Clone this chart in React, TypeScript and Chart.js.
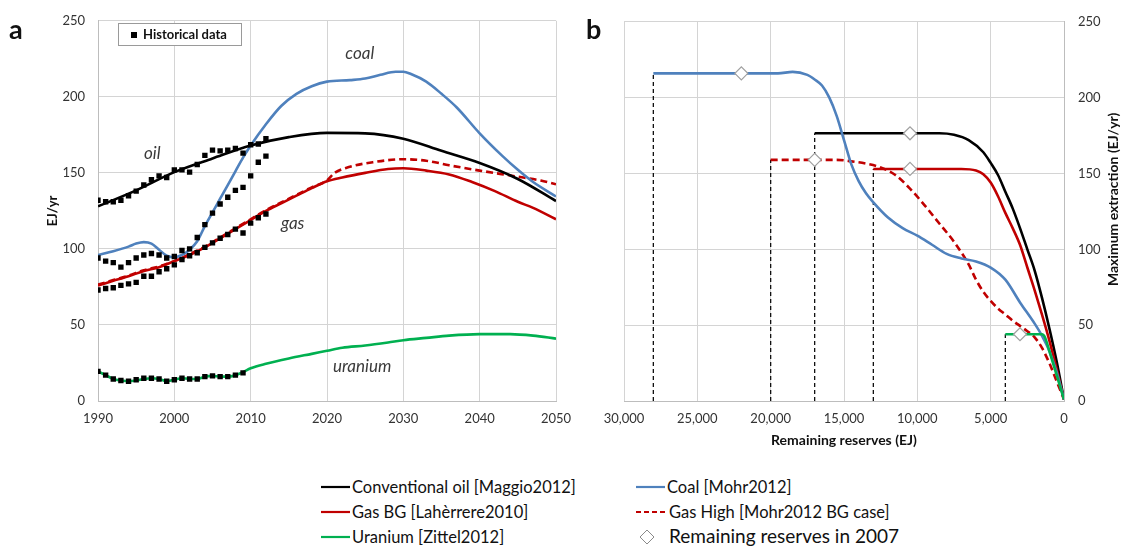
import React, { useEffect, useRef } from "react";
import { Chart, registerables } from "chart.js";

Chart.register(...registerables);

const FONT = "Lato, 'Open Sans', sans-serif";

// ---------- Panel a : production 1990-2050 (EJ/yr) ----------
const oilYears = [1990, 1995, 2000, 2005, 2010, 2015, 2020, 2025, 2030, 2035, 2040, 2045, 2050];
const oilValues = [128, 138.5, 150.5, 159.5, 168, 173.5, 176.3, 176, 172.5, 164.5, 156.5, 146, 131.5];

const coalYears = [1990, 1992, 1994, 1995, 1996, 1997, 1998, 1999, 2000, 2001, 2002, 2003, 2004, 2005, 2006, 2007, 2008, 2009, 2010, 2012, 2014, 2016, 2018, 2020, 2023, 2025, 2027, 2029, 2030, 2031, 2033, 2035, 2037, 2040, 2043, 2045, 2047, 2050];
const coalValues = [96, 98.5, 101.5, 103.5, 104.5, 103.5, 99.5, 95.5, 94.5, 96, 99.5, 105, 115, 124, 133, 142, 151, 160, 168, 182, 194, 202, 207, 210, 211, 212, 214.5, 216.5, 216.5, 215, 210, 202, 193, 176, 161, 152, 144, 134.5];

const gasBGYears = [1990, 1992, 1994, 1996, 1998, 2000, 2002, 2004, 2006, 2008, 2010, 2012, 2014, 2016, 2018, 2020, 2022, 2025, 2028, 2030, 2033, 2036, 2039, 2042, 2045, 2047, 2050];
const gasBGValues = [76, 79, 82, 85.5, 88, 92, 96, 101, 107, 113, 119, 125, 130, 135, 140, 144.5, 147, 150, 152.5, 153, 151.5, 149, 144, 138, 131, 127, 119.5];

const gasHighYears = [1990, 1992, 1994, 1996, 1998, 2000, 2002, 2004, 2006, 2008, 2010, 2012, 2014, 2016, 2018, 2020, 2021, 2023, 2026, 2030, 2033, 2036, 2040, 2045, 2048, 2050];
const gasHighValues = [76.5, 79.5, 82.5, 86, 88.5, 92, 96.5, 101.5, 107.5, 113.5, 119.5, 125.5, 130.5, 135.5, 140.5, 145, 150, 154, 157, 159, 158, 155, 151.5, 147.5, 145, 142.5];

const uraniumYears = [1990, 1991, 1992, 1993, 1994, 1995, 1996, 1997, 1998, 1999, 2000, 2001, 2002, 2003, 2004, 2005, 2006, 2007, 2008, 2009, 2010, 2012, 2015, 2018, 2020, 2022, 2025, 2028, 2030, 2033, 2036, 2040, 2044, 2047, 2050];
const uraniumValues = [19.5, 17, 14.5, 13.5, 13, 13.5, 14.5, 15, 14.5, 13, 14, 15, 14.5, 14.5, 16, 16.5, 16, 16, 17, 19, 21.5, 24.5, 28, 31, 33, 35, 36.5, 38.5, 40, 41.5, 43, 44, 44, 43, 41];

// Historical data (squares)
const histYears = [1990, 1991, 1992, 1993, 1994, 1995, 1996, 1997, 1998, 1999, 2000, 2001, 2002, 2003, 2004, 2005, 2006, 2007, 2008, 2009, 2010, 2011, 2012];
const histOil = [132, 131, 131, 132, 135, 138, 142, 145.5, 148, 147, 152, 152, 150.5, 155.5, 161.5, 165, 164.5, 165, 166, 163, 168.5, 169, 172.5];
const histCoal = [94, 92, 91, 88, 91, 94, 96, 97, 96, 94, 95, 99, 100, 107.5, 116, 123.5, 129.5, 134, 138.5, 140.5, 148, 157, 161];
const histGas = [73, 74, 74.5, 76, 77, 78, 82, 82, 85, 87, 89.5, 93, 95.5, 97.5, 101, 104, 107, 109.5, 113, 110.5, 117, 120.5, 123];
const histUraniumYears = [1990, 1991, 1992, 1993, 1994, 1995, 1996, 1997, 1998, 1999, 2000, 2001, 2002, 2003, 2004, 2005, 2006, 2007, 2008, 2009];
const histUranium = [19.5, 17, 14.5, 13.5, 13, 14, 15, 15, 14.5, 13, 14, 15, 14.5, 14.5, 16, 16.5, 16, 16, 17, 18.5];

// Italic curve labels (data coordinates)
const curveLabels = ["oil", "coal", "gas", "uranium"];
const curveLabelYears = [1997.1, 2024.3, 2015.5, 2024.6];
const curveLabelValues = [162.5, 228.5, 117, 22.5];

const yearTicks = [1990, 2000, 2010, 2020, 2030, 2040, 2050];
const ejTicks = [0, 50, 100, 150, 200, 250];

// ---------- Panel b : max extraction vs remaining reserves ----------
const coalReserves = [28000, 22000, 19500, 18500, 17500, 17000, 16500, 16000, 15500, 15000, 14500, 14000, 13500, 13000, 12000, 11000, 10000, 9000, 8000, 7000, 6000, 5000, 4000, 3000, 2000, 1500, 1000, 500, 0];
const coalMax = [216, 216, 216, 217, 215, 212, 208, 200, 188, 172, 156, 145, 137, 131, 121, 114, 109, 103, 97, 94, 92, 88, 80, 65, 51, 43, 33, 19, 1];

const oilReserves = [17000, 10500, 8500, 7500, 6500, 5500, 5000, 4500, 4000, 3500, 3000, 2500, 2000, 1500, 1000, 500, 0];
const oilMax = [176.5, 176.5, 176.5, 175.5, 172, 164, 157, 149, 138, 127, 114, 100, 86, 68, 48, 26, 1];

const gasBGReserves = [13000, 10500, 7000, 6000, 5500, 5000, 4500, 4000, 3500, 3000, 2500, 2000, 1500, 1000, 500, 0];
const gasBGMax = [153, 153, 153, 152, 149.5, 144, 135, 124, 114, 103, 88, 73, 57, 40, 21, 1];

const gasHighReserves = [20000, 17000, 15500, 14500, 13500, 12500, 11500, 10500, 9500, 8500, 7500, 6500, 6000, 5500, 5000, 4500, 4000, 3500, 3000, 2500, 2000, 1500, 1000, 500, 0];
const gasHighMax = [159, 159, 159, 158, 156.5, 154, 149, 140, 129, 117, 105, 90, 80, 72, 66, 61, 57, 53, 49.5, 46, 42, 35, 25, 13, 1];

const uraniumReserves = [4000, 3000, 2000, 1500, 1300, 1000, 500, 0];
const uraniumMax = [44, 44, 44, 44, 42, 33, 17, 1];

// Remaining reserves in 2007 (diamonds)
const reserves2007 = [22000, 17000, 10500, 10500, 3000];
const reserves2007Max = [216, 159, 176.5, 153, 44];

const reserveTicks = [0, 5000, 10000, 15000, 20000, 25000, 30000];

// ---------- colours ----------
const C_OIL = "#000000";
const C_COAL = "#4f81bd";
const C_GAS = "#c00000";
const C_URAN = "#00b050";
const GRID = "#d4d4d4";

const pts = (xs: number[], ys: number[]) => xs.map((x, i) => ({ x, y: ys[i] }));

const curveLabelPlugin = {
  id: "curveLabels",
  afterDatasetsDraw(chart: any) {
    const { ctx, scales } = chart;
    ctx.save();
    ctx.font = `italic 17px ${FONT}`;
    ctx.fillStyle = "#3a3a3a";
    ctx.textAlign = "center";
    ctx.textBaseline = "middle";
    curveLabels.forEach((t, i) => {
      ctx.fillText(t, scales.x.getPixelForValue(curveLabelYears[i]), scales.y.getPixelForValue(curveLabelValues[i]));
    });
    ctx.restore();
  },
};

const rightTitlePlugin = {
  id: "rightTitle",
  afterDraw(chart: any) {
    const { ctx, chartArea } = chart;
    ctx.save();
    ctx.translate(chart.width - 11, (chartArea.top + chartArea.bottom) / 2 - 12);
    ctx.rotate(-Math.PI / 2);
    ctx.font = `bold 14px ${FONT}`;
    ctx.fillStyle = "#111";
    ctx.textAlign = "center";
    ctx.textBaseline = "middle";
    ctx.fillText("Maximum extraction (EJ/yr)", 0, 0);
    ctx.restore();
  },
};

function lineDs(label: string, data: any[], color: string, dash: number[] = []) {
  return {
    label,
    data,
    borderColor: color,
    backgroundColor: color,
    borderWidth: 2.6,
    borderDash: dash,
    pointRadius: 0,
    cubicInterpolationMode: "monotone",
    fill: false,
  };
}

function histDs(label: string, data: any[]) {
  return {
    label,
    data,
    showLine: false,
    pointStyle: "rect",
    pointRadius: 3.8,
    pointBackgroundColor: "#000",
    pointBorderColor: "#000",
    pointBorderWidth: 0,
    borderColor: "#000",
    backgroundColor: "#000",
  };
}

function ChartA() {
  const ref = useRef<HTMLCanvasElement>(null);
  useEffect(() => {
    const chart = new Chart(ref.current as HTMLCanvasElement, {
      type: "line",
      data: {
        datasets: [
          histDs("Historical oil", pts(histYears, histOil)),
          histDs("Historical coal", pts(histYears, histCoal)),
          histDs("Historical gas", pts(histYears, histGas)),
          histDs("Historical uranium", pts(histUraniumYears, histUranium)),
          lineDs("Conventional oil [Maggio2012]", pts(oilYears, oilValues), C_OIL),
          lineDs("Coal [Mohr2012]", pts(coalYears, coalValues), C_COAL),
          lineDs("Gas BG [Lahèrrere2010]", pts(gasBGYears, gasBGValues), C_GAS),
          lineDs("Gas High [Mohr2012 BG case]", pts(gasHighYears, gasHighValues), C_GAS, [7, 4]),
          lineDs("Uranium [Zittel2012]", pts(uraniumYears, uraniumValues), C_URAN),
        ] as any,
      },
      options: {
        animation: false,
        responsive: false,
        maintainAspectRatio: false,
        layout: { padding: { top: 13, right: 34, left: 0, bottom: 0 } },
        plugins: { legend: { display: false }, tooltip: { enabled: false } },
        scales: {
          x: {
            type: "linear",
            min: yearTicks[0],
            max: yearTicks[yearTicks.length - 1],
            afterBuildTicks: (s: any) => { s.ticks = yearTicks.map((v) => ({ value: v })); },
            ticks: { padding: 10, color: "#333", font: { family: FONT, size: 13 }, callback: (v: any) => String(v), maxRotation: 0 },
            grid: { color: GRID, drawTicks: false },
            border: { color: "#bdbdbd" },
            afterFit: (s: any) => { s.height = 49; },
          },
          y: {
            type: "linear",
            min: 0,
            max: 250,
            afterBuildTicks: (s: any) => { s.ticks = ejTicks.map((v) => ({ value: v })); },
            ticks: { padding: 13, color: "#333", font: { family: FONT, size: 13 } },
            grid: { color: GRID, drawTicks: false },
            border: { color: "#bdbdbd" },
            title: { display: true, text: "EJ/yr", color: "#111", font: { family: FONT, size: 13, weight: "bold" }, padding: { top: 45, bottom: 0 } },
            afterFit: (s: any) => { s.width = 98; },
          },
        },
      } as any,
      plugins: [curveLabelPlugin],
    });
    return () => chart.destroy();
  }, []);
  return <canvas ref={ref} width={590} height={450} style={{ position: "absolute", left: 0, top: 0, width: 590, height: 450 }} />;
}

function ChartB() {
  const ref = useRef<HTMLCanvasElement>(null);
  useEffect(() => {
    const vline = (xs: number[], ys: number[]) => ({
      label: "start",
      data: [{ x: xs[0], y: 0 }, { x: xs[0], y: ys[0] }],
      borderColor: "#111",
      borderWidth: 1.3,
      borderDash: [4, 3],
      pointRadius: 0,
      fill: false,
    });
    const chart = new Chart(ref.current as HTMLCanvasElement, {
      type: "line",
      data: {
        datasets: [
          {
            label: "Remaining reserves in 2007",
            data: pts(reserves2007, reserves2007Max),
            showLine: false,
            pointStyle: "rectRot",
            pointRadius: 6.5,
            pointBackgroundColor: "#ffffff",
            pointBorderColor: "#a0a0a0",
            pointBorderWidth: 1.2,
          },
          lineDs("Uranium [Zittel2012]", pts(uraniumReserves, uraniumMax), C_URAN),
          lineDs("Coal [Mohr2012]", pts(coalReserves, coalMax), C_COAL),
          lineDs("Gas High [Mohr2012 BG case]", pts(gasHighReserves, gasHighMax), C_GAS, [7, 4]),
          lineDs("Gas BG [Lahèrrere2010]", pts(gasBGReserves, gasBGMax), C_GAS),
          lineDs("Conventional oil [Maggio2012]", pts(oilReserves, oilMax), C_OIL),
          vline(coalReserves, coalMax),
          vline(gasHighReserves, gasHighMax),
          vline(oilReserves, oilMax),
          vline(gasBGReserves, gasBGMax),
          vline(uraniumReserves, uraniumMax),
        ] as any,
      },
      options: {
        animation: false,
        responsive: false,
        maintainAspectRatio: false,
        layout: { padding: { top: 13, right: 0, left: 44, bottom: 0 } },
        plugins: { legend: { display: false }, tooltip: { enabled: false } },
        scales: {
          x: {
            type: "linear",
            reverse: true,
            min: 0,
            max: 30000,
            afterBuildTicks: (s: any) => { s.ticks = reserveTicks.map((v) => ({ value: v })); },
            ticks: { padding: 10, color: "#333", font: { family: FONT, size: 13 }, callback: (v: any) => Number(v).toLocaleString("en-US"), maxRotation: 0 },
            grid: { color: GRID, drawTicks: false },
            border: { color: "#bdbdbd" },
            title: { display: true, text: "Remaining reserves (EJ)", color: "#111", font: { family: FONT, size: 14, weight: "bold" }, padding: { top: 0, bottom: 11 } },
            afterFit: (s: any) => { s.height = 59; },
          },
          y: {
            type: "linear",
            position: "right",
            min: 0,
            max: 250,
            afterBuildTicks: (s: any) => { s.ticks = ejTicks.map((v) => ({ value: v })); },
            ticks: { padding: 14, color: "#333", font: { family: FONT, size: 13 } },
            grid: { color: GRID, drawTicks: false },
            border: { color: "#bdbdbd" },
            afterFit: (s: any) => { s.width = 60; },
          },
        },
      } as any,
      plugins: [rightTitlePlugin],
    });
    return () => chart.destroy();
  }, []);
  return <canvas ref={ref} width={544} height={460} style={{ position: "absolute", left: 580, top: 0, width: 544, height: 460 }} />;
}

const legendText: React.CSSProperties = { position: "absolute", fontFamily: FONT, fontSize: 16.5, color: "#111", lineHeight: "20px", whiteSpace: "nowrap" };

function LegendLine({ x, y, color, dash }: { x: number; y: number; color: string; dash?: string }) {
  return (
    <svg style={{ position: "absolute", left: x, top: y - 5 }} width={30} height={10}>
      <line x1={0} y1={5} x2={29} y2={5} stroke={color} strokeWidth={2.2} strokeDasharray={dash} />
    </svg>
  );
}

export default function App() {
  return (
    <div style={{ position: "absolute", left: 0, top: 0, width: 1124, height: 551, background: "#fff", overflow: "hidden" }}>
      <ChartA />
      <ChartB />
      <div style={{ position: "absolute", left: 9, top: 12, fontFamily: FONT, fontWeight: "bold", fontSize: 27, color: "#111" }}>a</div>
      <div style={{ position: "absolute", left: 586, top: 12, fontFamily: FONT, fontWeight: "bold", fontSize: 27, color: "#111" }}>b</div>
      <div style={{ position: "absolute", left: 118, top: 23, width: 124, height: 23, border: "1px solid #9a9a9a", background: "#fff", boxSizing: "border-box" }}>
        <div style={{ position: "absolute", left: 12, top: 8, width: 6, height: 6, background: "#000" }} />
        <div style={{ position: "absolute", left: 24, top: 2, fontFamily: FONT, fontWeight: "bold", fontSize: 13, color: "#111", whiteSpace: "nowrap" }}>Historical data</div>
      </div>

      <LegendLine x={321} y={487} color={C_OIL} />
      <div style={{ ...legendText, left: 352, top: 477 }}>Conventional oil [Maggio2012]</div>
      <LegendLine x={321} y={512} color={C_GAS} />
      <div style={{ ...legendText, left: 352, top: 502 }}>Gas BG [Lahèrrere2010]</div>
      <LegendLine x={321} y={537} color={C_URAN} />
      <div style={{ ...legendText, left: 352, top: 527 }}>Uranium [Zittel2012]</div>

      <LegendLine x={636} y={487} color={C_COAL} />
      <div style={{ ...legendText, left: 667, top: 477 }}>Coal [Mohr2012]</div>
      <LegendLine x={636} y={512} color={C_GAS} dash="5,3" />
      <div style={{ ...legendText, left: 669, top: 502 }}>Gas High [Mohr2012 BG case]</div>
      <svg style={{ position: "absolute", left: 639, top: 529 }} width={16} height={16}>
        <polygon points="8,1 15,8 8,15 1,8" fill="#fff" stroke="#8a8a8a" strokeWidth={1} />
      </svg>
      <div style={{ ...legendText, left: 669, top: 526, fontSize: 19 }}>Remaining reserves in 2007</div>
    </div>
  );
}
